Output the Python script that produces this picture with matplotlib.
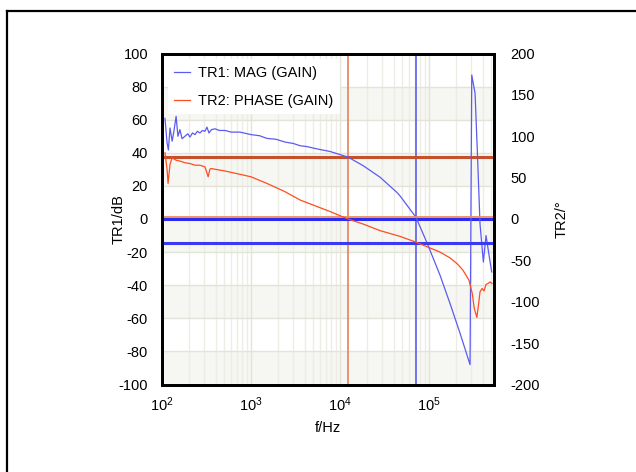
import numpy as np
import matplotlib.pyplot as plt
from matplotlib.lines import Line2D
from matplotlib.ticker import LogLocator, LogFormatterMathtext, NullFormatter

plt.rcParams['font.family'] = ['Liberation Sans', 'DejaVu Sans']
plt.rcParams['mathtext.fontset'] = 'custom'
plt.rcParams['mathtext.rm'] = 'Liberation Sans'
plt.rcParams['mathtext.default'] = 'regular'
plt.rcParams['axes.unicode_minus'] = False

# --- TR1: gain magnitude (dB) ---
f_mag = [108, 114, 118, 123, 130, 136, 144, 151, 159, 168, 181, 195, 206, 220,
         235, 250, 267, 285, 304, 320, 337, 360, 394, 440, 510, 600, 752, 1000,
         1250, 1510, 1900, 2410, 3000, 3550, 4300, 5240, 7720,
         12300, 18100, 28100, 43300, 47200, 71400, 94200, 133000, 172000,
         223000, 289000, 302000, 329000, 349000, 374000, 408000, 437000,
         476000, 506000]
mag_db = [60.8, 46, 41.7, 55, 47, 53, 62, 50, 54, 48.5, 50, 51.5, 49.5, 52,
          51, 53, 52, 53.5, 53, 55.5, 52, 54, 54.5, 53.5, 53.5, 52.5, 52.5, 51,
          50.3, 48.7, 48.2, 46.5, 45.6, 44.3, 43.7, 42.6, 40.8,
          37.4, 32.3, 25.3, 16.2, 14, 1, -14, -34, -51,
          -69, -88, 87, 76, 41, -3, -26, -10,
          -23, -32]

# --- TR2: gain phase (deg) ---
f_phase = [108, 114, 117, 123, 130, 144, 159, 181, 206, 235, 267, 304, 330,
           345, 355, 510, 752, 1000, 1510, 2410, 3550, 5240, 7720, 12300,
           18100, 28100, 47200, 71400, 102600, 133000, 172000, 207000,
           241000, 281000, 306000, 322000, 345000, 363000, 374000, 395000,
           415000, 437000, 460000, 486000, 510000]
phase_deg = [80, 60, 43, 66, 74, 71, 70, 68, 67, 65, 65, 63, 51,
             60, 61, 58, 54, 51, 43, 33, 23, 16, 9, 0,
             -6, -14, -21, -28, -35, -40, -47, -54,
             -62, -74, -90, -108, -119, -100, -88, -84,
             -87, -79, -78, -76, -78]

# --- cursors ---
cursor_f = [12300, 71400]
cursor_mag = [37.2, 0]
cursor_phase = [3, -28.5]

mag_ticks = list(range(-100, 101, 20))
phase_ticks = list(range(-200, 201, 50))

blue = '#5b5bf2'
red = '#ff4d1f'
grid_c = '#e3e3d9'
band_c = '#f6f6f2'

fig = plt.figure(figsize=(6.36, 4.72), dpi=100)
ax = fig.add_axes([162 / 636, 1 - 384.5 / 472, 332 / 636, 331 / 472])
ax2 = ax.twinx()

ax.set_xscale('log')
ax.set_xlim(100, 5.37e5)
ax.set_ylim(-100, 100)
ax2.set_ylim(-200, 200)

# alternating bands
for lo in [60, 20, -20, -60, -100]:
    ax.axhspan(lo, lo + 20, color=band_c, lw=0, zorder=0)

ax.xaxis.set_major_locator(LogLocator(base=10))
ax.xaxis.set_minor_locator(LogLocator(base=10, subs=np.arange(2, 10)))
ax.xaxis.set_major_formatter(LogFormatterMathtext())
ax.xaxis.set_minor_formatter(NullFormatter())
ax.set_yticks(mag_ticks)
ax2.set_yticks(phase_ticks)

ax.grid(True, which='major', axis='both', color=grid_c, lw=1, zorder=0.5)
ax.grid(True, which='minor', axis='x', color='#ededE5', lw=1, zorder=0.5)
ax.set_axisbelow(True)

# data
ax.plot(f_mag, mag_db, color=blue, lw=0.9, zorder=3, label='TR1: MAG (GAIN)')
ax2.plot(f_phase, phase_deg, color=red, lw=0.9, zorder=3, label='TR2: PHASE (GAIN)')

# cursor lines
ax.axvline(cursor_f[0], color='#e3835a', lw=1.2, zorder=2)
ax.axvline(cursor_f[1], color='#5050f0', lw=1.1, zorder=2)
ax.axhline(cursor_mag[0], color='#c4502c', lw=2.2, zorder=2)
ax2.axhline(cursor_phase[0], color='#ec8a5c', lw=1.3, zorder=1)
ax.axhline(cursor_mag[1], color='#2a2af0', lw=2.2, zorder=2)
ax2.axhline(cursor_phase[1], color='#3a3af2', lw=2.2, zorder=1)

for a in (ax, ax2):
    for s in a.spines.values():
        s.set_linewidth(2.0)
        s.set_color('black')
    a.tick_params(which='both', length=0, labelsize=10.5, colors='black')
ax.tick_params(axis='y', pad=10)
ax2.tick_params(axis='y', pad=12)
ax.tick_params(axis='x', pad=8)

ax.set_ylabel('TR1/dB', fontsize=10.5)
ax2.set_ylabel('TR2/°', fontsize=10.5)
ax.set_xlabel('f/Hz', fontsize=10.5)
ax.yaxis.set_label_coords(-0.111, 0.5)
ax2.yaxis.set_label_coords(1.184, 0.5)
ax.xaxis.set_label_coords(0.5, -0.11)

h1, l1 = ax.get_legend_handles_labels()
h2, l2 = ax2.get_legend_handles_labels()
leg = ax2.legend(h1 + h2, l1 + l2, loc='upper left', fontsize=10.5,
                 frameon=True, fancybox=False, framealpha=1,
                 borderaxespad=0.4, borderpad=0.45, handlelength=1.1,
                 handletextpad=0.5, labelspacing=0.95)
leg.get_frame().set_edgecolor('none')
leg.get_frame().set_facecolor('white')

# outer frame (cut off at right and bottom)
fig.add_artist(Line2D([7 / 636, 1], [1 - 11 / 472, 1 - 11 / 472],
                      transform=fig.transFigure, color='black', lw=1.6))
fig.add_artist(Line2D([7 / 636, 7 / 636], [0, 1 - 11 / 472],
                      transform=fig.transFigure, color='black', lw=1.6))

fig.savefig('out.png', dpi=100)
